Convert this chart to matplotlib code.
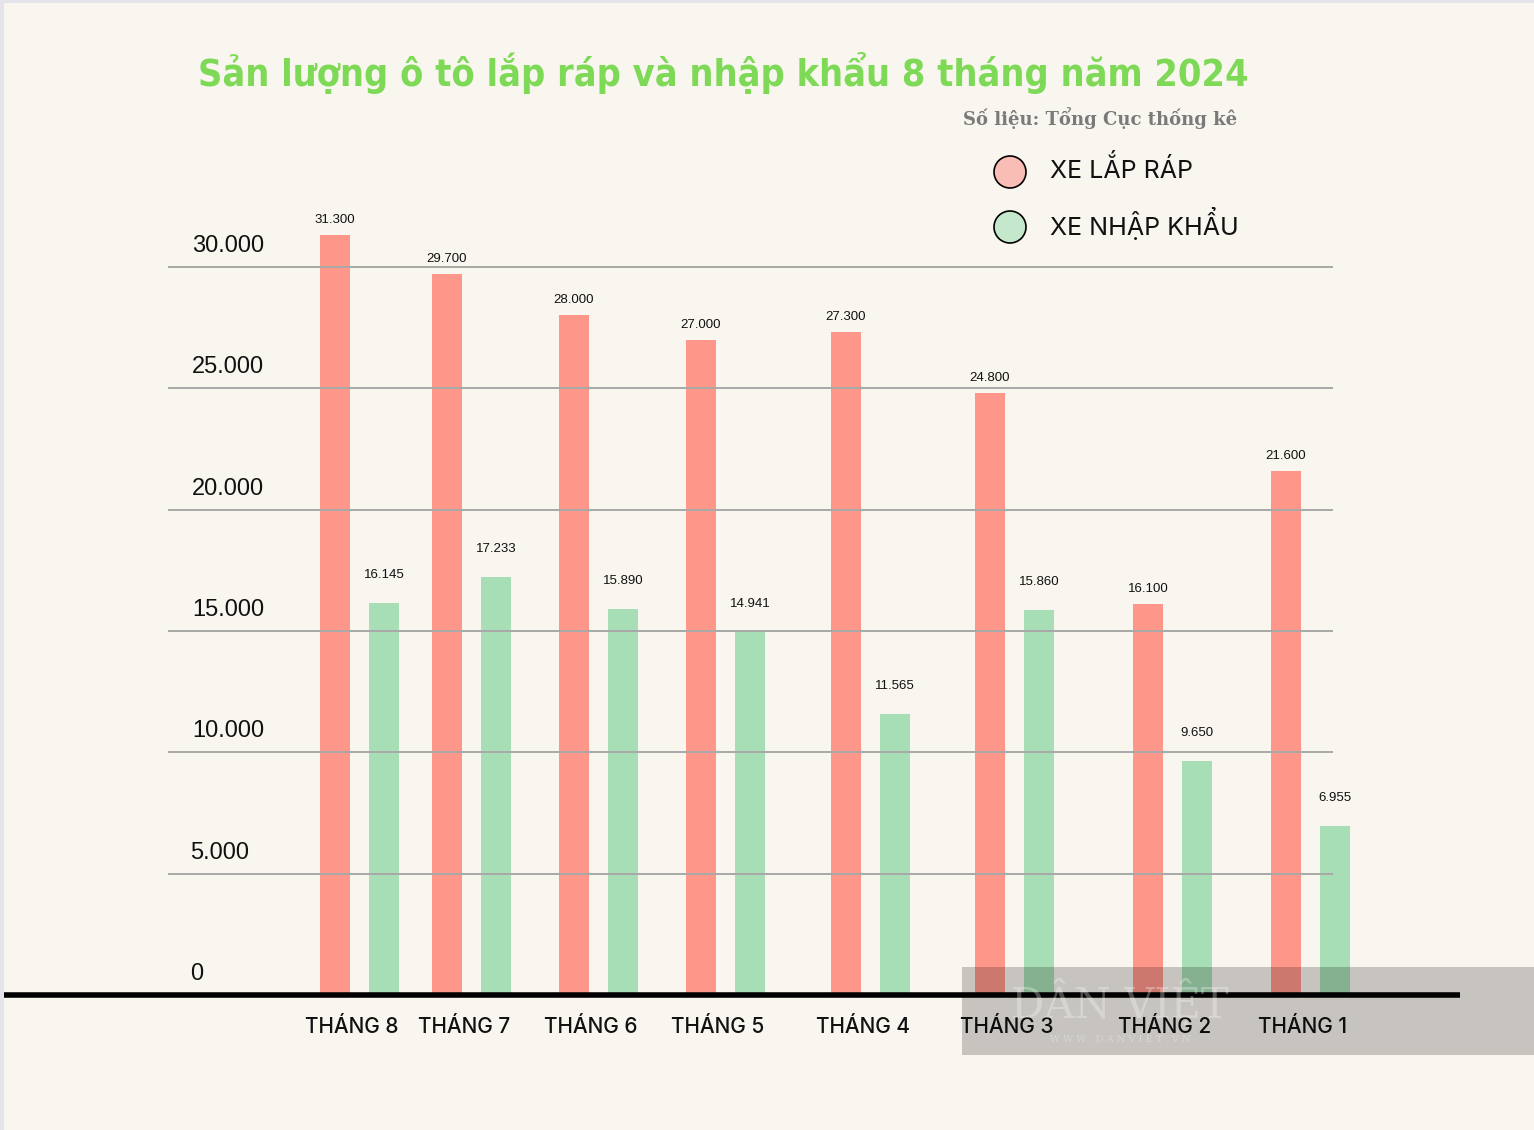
import matplotlib.pyplot as plt
from matplotlib.patches import Rectangle, Circle

months = ['THÁNG 8', 'THÁNG 7', 'THÁNG 6', 'THÁNG 5', 'THÁNG 4', 'THÁNG 3', 'THÁNG 2', 'THÁNG 1']
lap_rap = [31300, 29700, 28000, 27000, 27300, 24800, 16100, 21600]
nhap_khau = [16145, 17233, 15890, 14941, 11565, 15860, 9650, 6955]
yticks = [0, 5000, 10000, 15000, 20000, 25000, 30000]

# group centres (px), taken from the picture layout
group_x = [360, 472, 599, 726, 871, 1015, 1173, 1311]

bg = '#F9F6EF'
red = '#FF968A'
green = '#A8DEB5'

W, H = 1534, 1130
base_px = 995
px_per_unit = 24.27 / 1000.0

fig = plt.figure(figsize=(W / 100, H / 100), dpi=100)
fig.patch.set_facecolor(bg)
ax = fig.add_axes([0, 0, 1, 1])
ax.set_facecolor(bg)
ax.set_xlim(0, W)
ax.set_ylim(-(H - base_px) / px_per_unit, base_px / px_per_unit)
ax.axis('off')

def py(p):
    # pixel row -> data value
    return (base_px - p) / px_per_unit

# thin frame at left / top
ax.add_patch(Rectangle((0, py(H)), 4, py(0) - py(H), color='#E4E4EA', lw=0, zorder=0))
ax.add_patch(Rectangle((0, py(3)), W, py(0) - py(3), color='#E4E4EA', lw=0, zorder=0))

font = 'Inter'
num_font = 'Liberation Sans'

# bars
bw = 30
for i, x in enumerate(group_x):
    ax.bar(x - 25, lap_rap[i], width=bw, color=red, zorder=2)
    ax.bar(x + 24, nhap_khau[i], width=bw, color=green, zorder=2)
    ax.text(x - 25, lap_rap[i] + 15 / px_per_unit, f'{lap_rap[i]:,}'.replace(',', '.'),
            ha='center', va='center', fontsize=9.5, family=num_font, color='#111111', zorder=4)
    ax.text(x + 24, nhap_khau[i] + 28 / px_per_unit, f'{nhap_khau[i]:,}'.replace(',', '.'),
            ha='center', va='center', fontsize=9.5, family=num_font, color='#111111', zorder=4)
    ax.text(x - 8, py(1027), months[i], ha='center', va='center', fontsize=15,
            family=font, fontweight='medium', color='#111111', zorder=4)

# grid lines + y labels
for t in yticks:
    if t > 0:
        ax.hlines(t, 168, 1333, color='#A8A8A8', lw=1.4, zorder=3)
    lbl = f'{t:,}'.replace(',', '.')
    ax.text(190 if t < 10000 else 192, t + 21 / px_per_unit, lbl, ha='left', va='center',
            fontsize=17, family=num_font, color='#111111', zorder=4)

# baseline
ax.hlines(0, 4, 1460, color='black', lw=4, zorder=5)

# watermark box
ax.add_patch(Rectangle((962, py(1055)), W - 962, py(967) - py(1055), color='black',
                       alpha=0.2, lw=0, zorder=6))
ax.text(1120, py(1003), 'DÂN VIỆT', ha='center', va='center', fontsize=30,
        family='DejaVu Serif', color='white', alpha=0.3, zorder=7)
ax.text(1120, py(1040), 'W W W . D A N V I E T . V N', ha='center', va='center', fontsize=7,
        family='DejaVu Serif', color='white', alpha=0.3, zorder=7)

# title, shrunk to fit the width it has in the picture
title = fig.text(723 / W, 1 - 73 / H, 'Sản lượng ô tô lắp ráp và nhập khẩu 8 tháng năm 2024',
                 ha='center', va='center', fontsize=40, fontweight='bold',
                 family='DejaVu Sans', fontstretch='condensed', color='#7ED957')
r = fig.canvas.get_renderer()
w = title.get_window_extent(r).width
title.set_fontsize(40 * 1047 / w)

fig.text(1237 / W, 1 - 118 / H, 'Số liệu: Tổng Cục thống kê', ha='right', va='center',
         fontsize=13, fontweight='bold', family='DejaVu Serif', color='#7A7A7A')

# legend
for yy, c, lbl in [(172, '#F9BDB5', 'XE LẮP RÁP'), (227, '#C5E8CC', 'XE NHẬP KHẨU')]:
    fig.patches.append(Circle((1010 / 100, (H - yy) / 100), 0.16,
                              transform=fig.dpi_scale_trans,
                              facecolor=c, edgecolor='black', lw=1.2))
    fig.text(1050 / W, 1 - (yy - 3) / H, lbl, ha='left', va='center', fontsize=18,
             family=font, color='#111111')

fig.savefig('out.png', dpi=100, facecolor=bg)
